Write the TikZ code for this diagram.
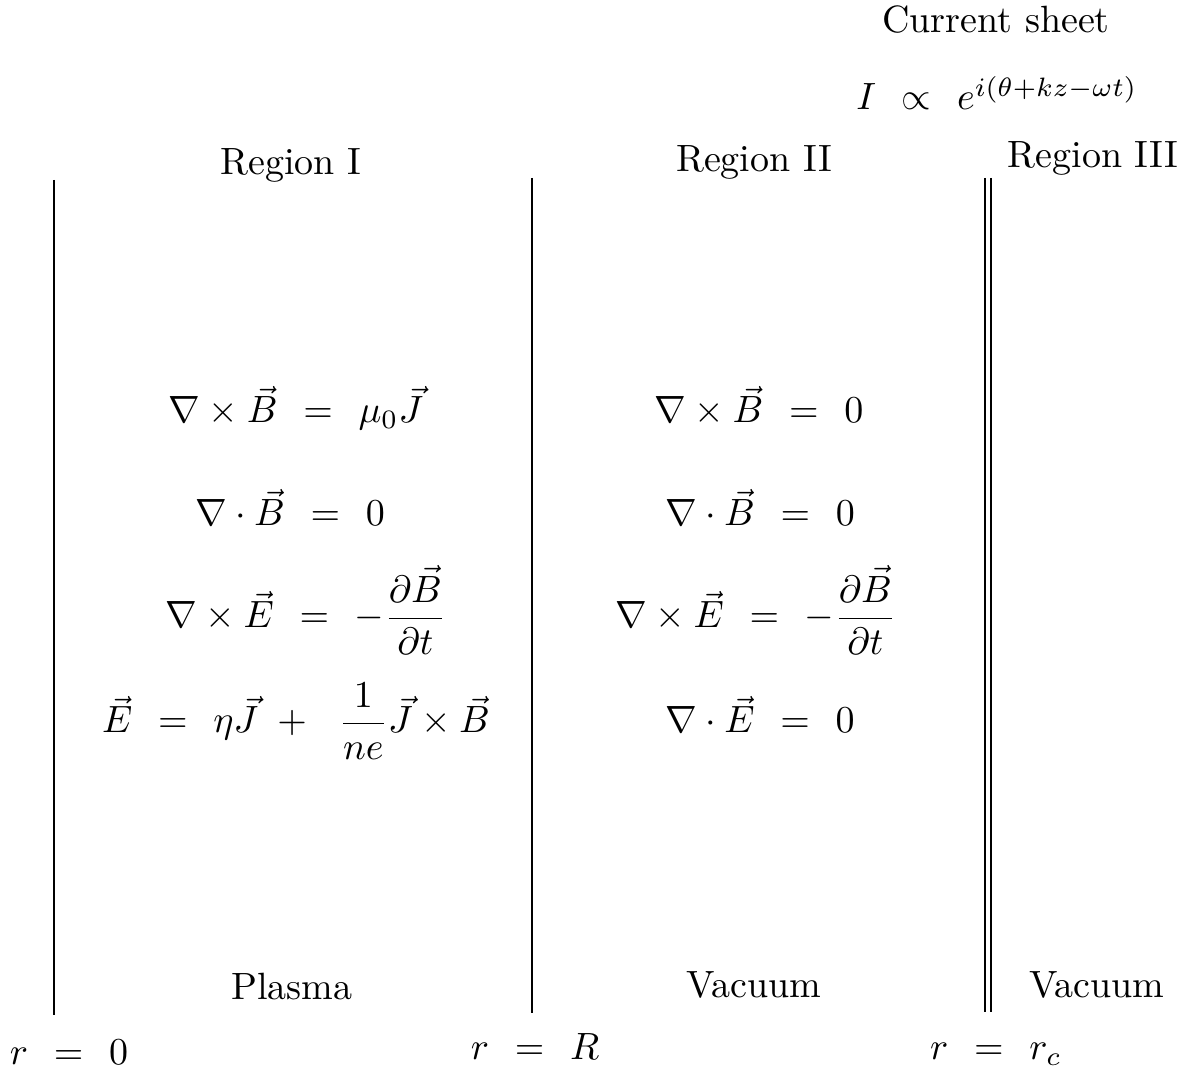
\documentclass[tikz,border=0pt]{standalone}
\usepackage{amsmath}
\newcommand{\wrel}[1]{\mathrel{\hskip 4pt #1\hskip 4pt}}
\tikzset{
  lbl/.style={anchor=base, inner sep=0pt, font=\normalsize},
  eqn/.style={anchor=base, inner sep=0pt},
  wall/.style={line width=0.55pt, black},
}
\begin{document}
\begin{tikzpicture}[x=0.2632pt,y=-0.2632pt]
\useasboundingbox (0,0) rectangle (1185,1071);
% boundary lines
\coordinate (a1) at (54,180);  \coordinate (a2) at (54,1015);
\coordinate (b1) at (532,178); \coordinate (b2) at (532,1013);
\coordinate (c1) at (985,178); \coordinate (c2) at (985,1012);
\coordinate (d1) at (991,178); \coordinate (d2) at (991,1012);
\draw[wall] (a1) -- (a2);
\draw[wall] (b1) -- (b2);
\draw[wall] (c1) -- (c2);
\draw[wall] (d1) -- (d2);
% top labels
\node[lbl] (cs) at (996,33) {Current sheet};
\node[eqn] (cur) at (997,110) {$I\wrel{\propto} e^{i(\theta+kz-\omega t)}$};
\node[lbl] (r1) at (291,175) {Region I};
\node[lbl] (r2) at (754,172) {Region II};
\node[lbl] (r3) at (1093,168) {Region III};
% region I equations
\node[eqn] (e11) at (296,423) {$\nabla\times\vec B\wrel{=}\mu_0\vec J$};
\node[eqn] (e12) at (290,526) {$\nabla\cdot\vec B\wrel{=}0$};
\node[eqn] (e13) at (306,628) {$\displaystyle\nabla\times\vec E\wrel{=}-\frac{\partial\vec B}{\partial t}$};
\node[eqn] (e14) at (296,733) {$\displaystyle\vec E\wrel{=}\eta\vec J\;+\;\ \frac{1}{ne}\vec J\times\vec B$};
% region II equations
\node[eqn] (e21) at (759,423) {$\nabla\times\vec B\wrel{=}0$};
\node[eqn] (e22) at (760,526) {$\nabla\cdot\vec B\wrel{=}0$};
\node[eqn] (e23) at (756,628) {$\displaystyle\nabla\times\vec E\wrel{=}-\frac{\partial\vec B}{\partial t}$};
\node[eqn] (e24) at (760,733) {$\nabla\cdot\vec E\wrel{=}0$};
% bottom labels
\node[lbl] (pl) at (292,1000) {Plasma};
\node[lbl] (v2) at (754,998) {Vacuum};
\node[lbl] (v3) at (1097,998) {Vacuum};
\node[eqn] (rz) at (69,1065) {$r\wrel{=}0$};
\node[eqn] (rR) at (535,1060) {$r\wrel{=}R$};
\node[eqn] (rc) at (996,1060) {$r\wrel{=}r_c$};
\end{tikzpicture}
\end{document}
